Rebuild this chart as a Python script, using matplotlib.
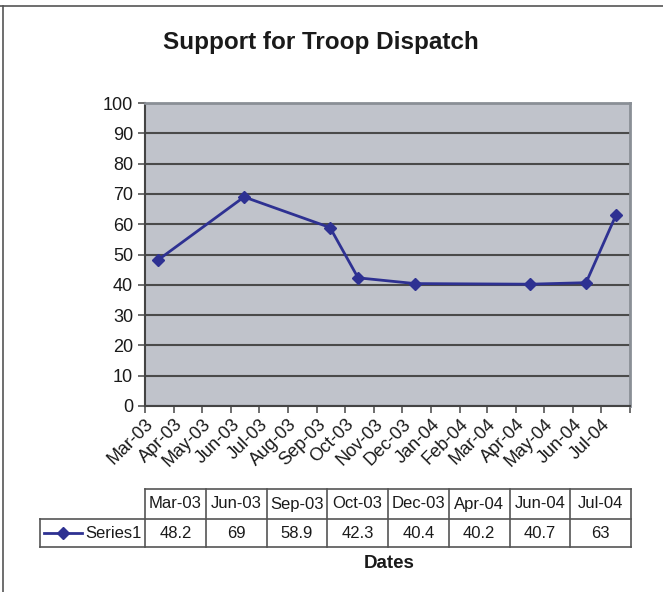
import datetime as dt
import matplotlib
matplotlib.use("Agg")
import matplotlib.pyplot as plt
import matplotlib.dates as mdates
from matplotlib.lines import Line2D

plt.rcParams['font.family'] = ['Liberation Sans', 'DejaVu Sans']

# ---- data ----
categories = ["Mar-03", "Jun-03", "Sep-03", "Oct-03", "Dec-03", "Apr-04", "Jun-04", "Jul-04"]
dates = [dt.date(2003, 3, 15), dt.date(2003, 6, 15), dt.date(2003, 9, 15), dt.date(2003, 10, 15),
         dt.date(2003, 12, 15), dt.date(2004, 4, 16), dt.date(2004, 6, 15), dt.date(2004, 7, 17)]
values = [48.2, 69, 58.9, 42.3, 40.4, 40.2, 40.7, 63]
value_labels = ["48.2", "69", "58.9", "42.3", "40.4", "40.2", "40.7", "63"]
series_name = "Series1"
title = "Support for Troop Dispatch"
xlabel = "Dates"

W, H = 663, 592
fig = plt.figure(figsize=(W / 100, H / 100), dpi=100)
fig.patch.set_facecolor('white')

def fx(px):
    return px / W

def fy(py):
    return 1 - py / H

L, R, T, B = 145, 630, 103, 406
ax = fig.add_axes([fx(L), fy(B), (R - L) / W, (B - T) / H])
ax.set_facecolor('#C0C3CB')

line_color = '#2E3192'
ax.plot(dates, values, color=line_color, lw=2, marker='D', markersize=6.5,
        markerfacecolor=line_color, markeredgecolor=line_color, zorder=3)

ax.set_xlim(mdates.date2num(dt.date(2003, 3, 1)), mdates.date2num(dt.date(2004, 8, 1)))
ax.set_ylim(0, 100)
ax.set_yticks(range(0, 101, 10))
ax.yaxis.grid(True, color='#4a4a4a', lw=1.5)
ax.set_axisbelow(True)

ax.xaxis.set_major_locator(mdates.MonthLocator())
ax.xaxis.set_major_formatter(mdates.DateFormatter('%b-%y'))
ax.tick_params(axis='both', direction='out', length=5, width=1.2, color='#555555', labelsize=13,
               labelcolor='#1a1a1a')
ax.tick_params(axis='x', pad=2)
for lbl in ax.get_xticklabels():
    lbl.set_rotation(45)
    lbl.set_ha('right')
    lbl.set_va('top')
    lbl.set_rotation_mode('anchor')

for s in ['top', 'right']:
    ax.spines[s].set_color('#8A8F96')
    ax.spines[s].set_linewidth(2)
for s in ['left', 'bottom']:
    ax.spines[s].set_color('#444444')
    ax.spines[s].set_linewidth(1.5)

# hide the Aug-04 label at the right edge
fig.canvas.draw()
for lbl in ax.get_xticklabels():
    if lbl.get_text() == 'Aug-04':
        lbl.set_visible(False)

fig.text(fx(321), fy(42), title, ha='center', va='center', fontsize=17.5, fontweight='bold', color='#1a1a1a')

# ---- data table ----
n = len(categories)
x0, x1 = 145, 631
rowlab_left = 40
top_y, mid_y, bot_y = 489, 519, 547
cw = (x1 - x0) / n
lc = '#555555'
def hline(xa, xb, y):
    fig.add_artist(Line2D([fx(xa), fx(xb)], [fy(y), fy(y)], color=lc, lw=1.2, transform=fig.transFigure))
def vline(x, ya, yb):
    fig.add_artist(Line2D([fx(x), fx(x)], [fy(ya), fy(yb)], color=lc, lw=1.2, transform=fig.transFigure))

hline(x0, x1, top_y)
hline(rowlab_left, x1, mid_y)
hline(rowlab_left, x1, bot_y)
vline(rowlab_left, mid_y, bot_y)
for i in range(n + 1):
    vline(x0 + i * cw, top_y, bot_y)
for i, (c, v) in enumerate(zip(categories, value_labels)):
    cx = x0 + (i + 0.5) * cw
    fig.text(fx(cx), fy((top_y + mid_y) / 2), c, ha='center', va='center', fontsize=12, color='#1a1a1a')
    fig.text(fx(cx), fy((mid_y + bot_y) / 2), v, ha='center', va='center', fontsize=12, color='#1a1a1a')
# legend key
ym = (mid_y + bot_y) / 2
fig.add_artist(Line2D([fx(44), fx(82)], [fy(ym), fy(ym)], color=line_color, lw=2, transform=fig.transFigure))
fig.add_artist(Line2D([fx(62.5)], [fy(ym)], color=line_color, marker='D', markersize=6,
                      transform=fig.transFigure))
fig.text(fx(142), fy(ym), series_name, ha='right', va='center', fontsize=12, color='#1a1a1a')

fig.text(fx(389.5), fy(563), xlabel, ha='center', va='center', fontsize=13.5, fontweight='bold', color='#1a1a1a')

# outer frame
fig.add_artist(Line2D([0, 1], [fy(6), fy(6)], color='#555555', lw=1.2, transform=fig.transFigure))
fig.add_artist(Line2D([fx(3), fx(3)], [fy(6), 0], color='#555555', lw=1.2, transform=fig.transFigure))

fig.savefig('out.png', dpi=100)
